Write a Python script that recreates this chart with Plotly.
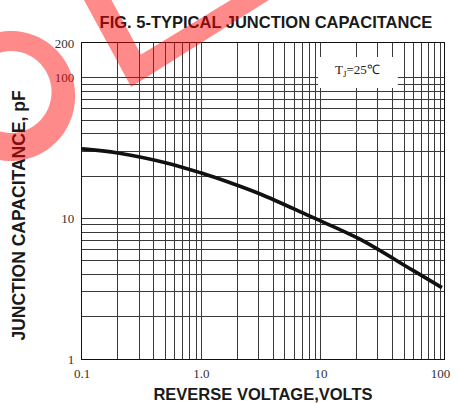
import numpy as np
import plotly.graph_objects as go

# ---------------- data ----------------
voltage = [0.1, 0.2, 0.5, 1.0, 1.65, 3.1, 8.0, 20.6, 58, 103]
capacitance = [31.2, 29.2, 24.9, 21.0, 18.2, 14.9, 10.4, 7.2, 4.3, 3.22]

x_tick_values = [m * 10.0 ** e for e in (-1, 0, 1) for m in range(1, 10)] + [100]
x_tick_labels = ["0.1"] + [""] * 8 + ["1.0"] + [""] * 8 + ["10"] + [""] * 8 + ["100"]

y_top_log = 2.247
y_tick_values = [m * 10.0 ** e for e in (0, 1) for m in range(1, 10)] + [100, 10 ** y_top_log]
y_tick_labels = ["1"] + [""] * 8 + ["10"] + [""] * 8 + ["100", "200"]

title_text = "FIG. 5-TYPICAL JUNCTION CAPACITANCE"
x_title = "REVERSE VOLTAGE,VOLTS"
y_title = "JUNCTION CAPACITANCE, pF"
note_text = "T<sub>J</sub>=25℃"

# ---------------- layout geometry (pixels) ----------------
W, H = 457, 403
L, R, T, B = 82, 450, 43, 359


def px(x):
    return (x - L) / (R - L)


def py(y):
    return (B - y) / (B - T)


def poly_path(points):
    return "M " + " L ".join(f"{px(x):.4f},{py(y):.4f}" for x, y in points) + " Z"


def circle_pts(cx, cy, r, n=90, reverse=False):
    a = np.linspace(0, 2 * np.pi, n, endpoint=False)
    if reverse:
        a = a[::-1]
    return list(zip(cx + r * np.cos(a), cy + r * np.sin(a)))


fig = go.Figure()
fig.add_trace(go.Scatter(
    x=voltage, y=capacitance, mode="lines",
    line=dict(color="#111111", width=3.6, shape="spline", smoothing=1.0),
    hoverinfo="skip", showlegend=False,
))

grid_col = "#3a3a3a"
tick_font = dict(family="Liberation Serif, Times New Roman, serif", size=13, color="#333333")

fig.update_xaxes(
    type="log", range=[-1, 2.03],
    tickmode="array", tickvals=x_tick_values, ticktext=x_tick_labels,
    showgrid=True, gridcolor=grid_col, gridwidth=1.1,
    showline=True, linecolor="#111111", linewidth=1.4, mirror=True,
    ticks="", tickfont=tick_font, zeroline=False, ticklabelstandoff=2,
)
fig.update_yaxes(
    type="log", range=[0, y_top_log],
    tickmode="array", tickvals=y_tick_values, ticktext=y_tick_labels,
    showgrid=True, gridcolor=grid_col, gridwidth=1.1,
    showline=True, linecolor="#111111", linewidth=1.4, mirror=True,
    ticks="", tickfont=tick_font, zeroline=False, ticklabelstandoff=4,
)

label_font = dict(family="Liberation Sans, Arial, sans-serif", size=16, color="#1a1a1a", weight="bold")

shapes = []
# white box behind the temperature note
shapes.append(dict(type="rect", xref="paper", yref="paper",
                   x0=px(322), x1=px(403), y0=py(57), y1=py(88),
                   fillcolor="white", line=dict(width=0), layer="above"))


def text_shape(x0, x1, y0, y1, text, angle=0, size=16):
    f = dict(label_font)
    f["size"] = size
    return dict(type="rect", xref="paper", yref="paper",
                x0=px(x0), x1=px(x1), y0=py(y0), y1=py(y1),
                fillcolor="rgba(0,0,0,0)", line=dict(width=0), layer="above",
                label=dict(text=text, font=f, textangle=angle,
                           textposition="middle center", padding=0))


shapes.append(text_shape(90, 448, 10, 30, title_text, size=16.5))
shapes.append(text_shape(140, 392, 382, 402, x_title, size=16.5))
shapes.append(text_shape(6, 27, 86, 345, y_title, angle=-90, size=17.5))

# translucent red watermark (drawn over text)
wm = dict(fillcolor="rgb(255,0,0)", opacity=0.46, line=dict(width=0), layer="above",
          xref="paper", yref="paper", type="path")
ring_path = poly_path(circle_pts(10, 96, 65)) + " " + poly_path(circle_pts(10, 92, 41, reverse=True))
shapes.append(dict(wm, path=ring_path, fillrule="evenodd"))
v_pts = [(78.5, -10), (132, 87), (288, -10), (250, -10), (142, 54.6), (106.5, -10)]
shapes.append(dict(wm, path=poly_path(v_pts)))

fig.update_layout(
    width=W, height=H,
    margin=dict(l=L, r=W - R, t=T, b=H - B, pad=0),
    paper_bgcolor="white", plot_bgcolor="white",
    shapes=shapes,
    annotations=[dict(
        text=note_text, xref="paper", yref="paper",
        x=px(362), y=py(70), showarrow=False, xanchor="center", yanchor="middle",
        font=dict(family="Liberation Serif, Times New Roman, serif", size=13, color="#222222"),
    )],
    showlegend=False,
)

fig.write_html("out.html", config={"displayModeBar": False},
               post_script="document.body.style.margin='0';document.body.style.padding='0';")
